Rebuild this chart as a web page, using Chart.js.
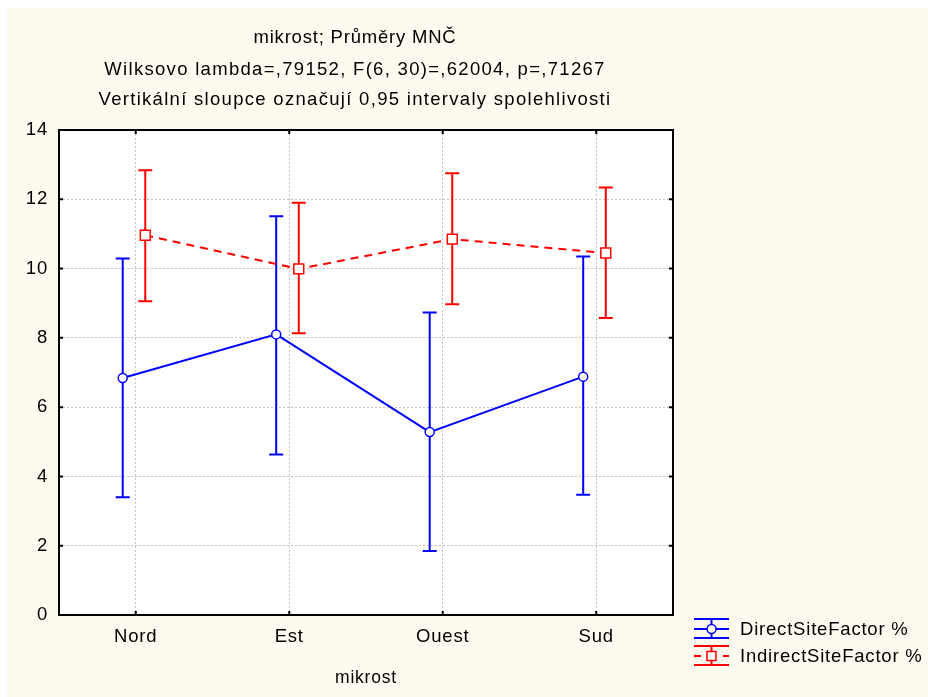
<!DOCTYPE html>
<html>
<head>
<meta charset="utf-8">
<script src="https://cdn.jsdelivr.net/npm/chart.js@4.4.1/dist/chart.umd.min.js"></script>
<style>
html, body { margin: 0; padding: 0; background: #fff; }
canvas { display: block; }
</style>
</head>
<body>
<canvas id="chart" width="928" height="697"></canvas>
<script>
// data
const categories = ['Nord', 'Est', 'Ouest', 'Sud'];
const yTicks = [0, 2, 4, 6, 8, 10, 12, 14];

const directMean = [6.84, 8.10, 5.28, 6.88];
const directLow  = [3.40, 4.63, 1.85, 3.47];
const directHigh = [10.29, 11.51, 8.73, 10.35];

const indirectMean = [10.96, 9.99, 10.85, 10.45];
const indirectLow  = [9.06, 8.13, 8.97, 8.57];
const indirectHigh = [12.84, 11.90, 12.75, 12.34];

const titleLines = [
    'mikrost; Průměry MNČ',
    'Wilksovo lambda=,79152, F(6, 30)=,62004, p=,71267',
    'Vertikální sloupce označují 0,95 intervaly spolehlivosti'
];
const legendLabels = ['DirectSiteFactor %', 'IndirectSiteFactor %'];

const FONT = "'Liberation Sans', Arial, sans-serif";
const BLUE = '#0000ff';
const RED = '#ff0000';
const CREAM = '#fffaef';

// small shift so the two series don't sit on top of each other
const directShift = -0.085;
const indirectShift = 0.062;

function points(mean, shift) {
    return mean.map((v, i) => ({x: i + shift, y: v}));
}

const backgroundPlugin = {
    id: 'background',
    beforeDraw(chart) {
        const ctx = chart.ctx;
        const a = chart.chartArea;
        ctx.save();
        ctx.fillStyle = '#fff';
        ctx.fillRect(0, 0, chart.width, chart.height);
        ctx.fillStyle = CREAM;
        ctx.fillRect(7, 8, chart.width - 7, chart.height - 8);
        ctx.fillStyle = '#fff';
        ctx.fillRect(a.left, a.top, a.right - a.left, a.bottom - a.top);
        ctx.restore();
        ctx.letterSpacing = '0.8px';
    }
};

const errorBarPlugin = {
    id: 'errorBars',
    beforeDatasetsDraw(chart) {
        const ctx = chart.ctx;
        const ys = chart.scales.y;
        const sets = [[directLow, directHigh, BLUE], [indirectLow, indirectHigh, RED]];
        ctx.save();
        ctx.lineWidth = 2;
        sets.forEach(([low, high, color], di) => {
            const meta = chart.getDatasetMeta(di);
            ctx.strokeStyle = color;
            meta.data.forEach((pt, j) => {
                const x = pt.x;
                const y0 = ys.getPixelForValue(low[j]);
                const y1 = ys.getPixelForValue(high[j]);
                ctx.beginPath();
                ctx.moveTo(x, y0); ctx.lineTo(x, y1);
                ctx.moveTo(x - 7, y0); ctx.lineTo(x + 7, y0);
                ctx.moveTo(x - 7, y1); ctx.lineTo(x + 7, y1);
                ctx.stroke();
            });
        });
        ctx.restore();
    }
};

const framePlugin = {
    id: 'frame',
    afterDraw(chart) {
        const ctx = chart.ctx;
        const a = chart.chartArea;
        const xs = chart.scales.x, ys = chart.scales.y;
        ctx.save();
        ctx.strokeStyle = '#000';
        ctx.lineWidth = 2;
        ctx.strokeRect(a.left, a.top, a.right - a.left, a.bottom - a.top);
        ctx.beginPath();
        yTicks.forEach(v => {
            const y = ys.getPixelForValue(v);
            ctx.moveTo(a.left, y); ctx.lineTo(a.left + 4, y);
            ctx.moveTo(a.right, y); ctx.lineTo(a.right - 4, y);
        });
        categories.forEach((c, i) => {
            const x = xs.getPixelForValue(i);
            ctx.moveTo(x, a.top); ctx.lineTo(x, a.top + 4);
            ctx.moveTo(x, a.bottom); ctx.lineTo(x, a.bottom - 4);
        });
        ctx.stroke();

        // title lines
        ctx.fillStyle = '#000';
        ctx.font = '18.5px ' + FONT;
        ctx.textAlign = 'center';
        ctx.textBaseline = 'alphabetic';
        const baselines = [42.5, 74.5, 105];
        const spacing = ['0.8px', '1.3px', '1.3px'];
        titleLines.forEach((t, i) => {
            ctx.letterSpacing = spacing[i];
            ctx.fillText(t, 355, baselines[i]);
        });
        ctx.letterSpacing = '0.8px';

        // legend
        const rows = [
            {yc: 629, color: BLUE, dashed: false, square: false, label: legendLabels[0]},
            {yc: 656, color: RED, dashed: true, square: true, label: legendLabels[1]}
        ];
        const x0 = 694, x1 = 729, xm = 711.5;
        rows.forEach(r => {
            ctx.strokeStyle = r.color;
            ctx.lineWidth = 2;
            ctx.beginPath();
            ctx.moveTo(x0, r.yc - 10); ctx.lineTo(x1, r.yc - 10);
            ctx.moveTo(x0, r.yc + 9); ctx.lineTo(x1, r.yc + 9);
            ctx.moveTo(xm, r.yc - 10); ctx.lineTo(xm, r.yc + 9);
            ctx.stroke();
            ctx.beginPath();
            if (r.dashed) {
                ctx.moveTo(x0, r.yc); ctx.lineTo(x0 + 7, r.yc);
                ctx.moveTo(x1 - 6, r.yc); ctx.lineTo(x1, r.yc);
            } else {
                ctx.moveTo(x0, r.yc); ctx.lineTo(x1, r.yc);
            }
            ctx.stroke();
            ctx.fillStyle = '#fff';
            ctx.lineWidth = 1.5;
            ctx.beginPath();
            if (r.square) ctx.rect(xm - 4.5, r.yc - 4.5, 9, 9);
            else ctx.arc(xm, r.yc, 4.5, 0, Math.PI * 2);
            ctx.fill();
            ctx.stroke();
            ctx.fillStyle = '#000';
            ctx.font = '18.5px ' + FONT;
            ctx.textAlign = 'left';
            ctx.textBaseline = 'middle';
            ctx.fillText(r.label, 740, r.yc + 1);
        });
        ctx.restore();
    }
};

new Chart(document.getElementById('chart'), {
    type: 'line',
    data: {
        datasets: [{
            label: legendLabels[0],
            data: points(directMean, directShift),
            borderColor: BLUE,
            borderWidth: 2,
            pointStyle: 'circle',
            pointRadius: 4.5,
            pointBackgroundColor: '#fff',
            pointBorderColor: BLUE,
            pointBorderWidth: 1.5,
            tension: 0
        }, {
            label: legendLabels[1],
            data: points(indirectMean, indirectShift),
            borderColor: RED,
            borderWidth: 2,
            borderDash: [8, 6],
            pointStyle: 'rect',
            pointRadius: 7,
            pointBackgroundColor: '#fff',
            pointBorderColor: RED,
            pointBorderWidth: 1.5,
            tension: 0
        }]
    },
    options: {
        responsive: false,
        animation: false,
        devicePixelRatio: 1,
        layout: {padding: {left: 7, top: 130, right: 255, bottom: 0}},
        plugins: {
            legend: {display: false},
            title: {display: false},
            tooltip: {enabled: false}
        },
        scales: {
            x: {
                type: 'linear',
                min: -0.5,
                max: 3.5,
                afterFit(s) { s.height = 82; },
                afterBuildTicks(s) { s.ticks = categories.map((c, i) => ({value: i})); },
                ticks: {
                    autoSkip: false,
                    color: '#000',
                    font: {family: FONT, size: 18.5},
                    padding: 11,
                    callback: v => categories[v]
                },
                grid: {color: '#c4c4c4', lineWidth: 1, drawTicks: false},
                border: {display: false, dash: [2, 2]},
                title: {
                    display: true,
                    text: 'mikrost',
                    color: '#000',
                    font: {family: FONT, size: 17.5},
                    padding: {top: 0, bottom: 8}
                }
            },
            y: {
                min: 0,
                max: 14,
                afterFit(s) { s.width = 52; },
                afterBuildTicks(s) { s.ticks = yTicks.map(v => ({value: v})); },
                ticks: {
                    color: '#000',
                    font: {family: FONT, size: 18.5},
                    padding: 11
                },
                grid: {color: '#c4c4c4', lineWidth: 1, drawTicks: false},
                border: {display: false, dash: [2, 2]}
            }
        }
    },
    plugins: [backgroundPlugin, errorBarPlugin, framePlugin]
});
</script>
</body>
</html>
